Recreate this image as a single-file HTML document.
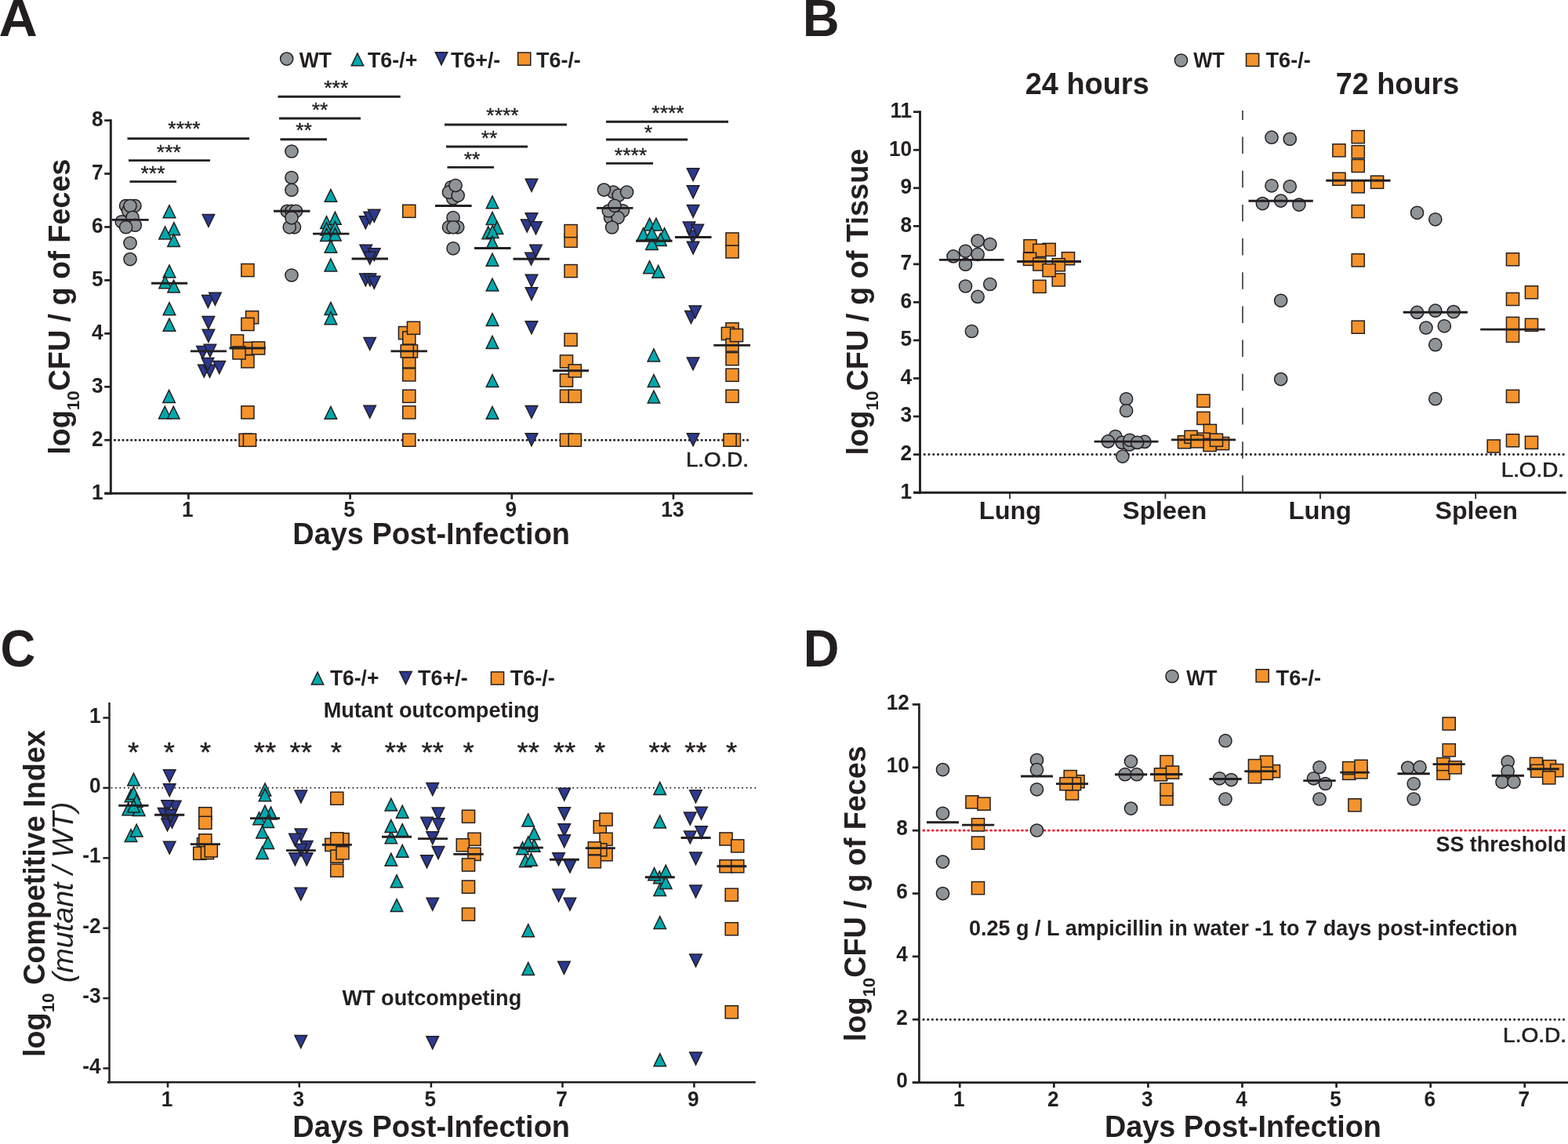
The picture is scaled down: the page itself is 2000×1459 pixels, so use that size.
<!DOCTYPE html>
<html lang="en"><head><meta charset="utf-8"><title>Figure</title>
<style>
html,body{margin:0;padding:0;background:#fff}
body{width:2000px;height:1459px;overflow:hidden}
svg{display:block}
text{font-family:"Liberation Sans",Arial,Helvetica,sans-serif;font-weight:bold;fill:#231f20}
line{stroke:#231f20}
.n{font-weight:normal}
.i{font-style:italic}
.g{fill:#8f9498;stroke:#231f20;stroke-width:1.5}
.o{fill:#f4932b;stroke:#231f20;stroke-width:1.5}
.t{fill:#00a9ad;stroke:#231f20;stroke-width:1.5;stroke-linejoin:miter}
.b{fill:#2b3990;stroke:#231f20;stroke-width:1.5;stroke-linejoin:miter}
</style></head><body>
<svg xmlns="http://www.w3.org/2000/svg" width="2000" height="1459" viewBox="0 0 2000 1459">
<rect width="2000" height="1459" fill="#fff"/>
<text transform="translate(-1.41 46) scale(1.0257 1)" font-size="66.5">A</text>
<line x1="141.3" y1="152.25" x2="141.3" y2="630.65" stroke-width="2.9"/>
<line x1="133.2" y1="629.2" x2="960.2" y2="629.2" stroke-width="2.9"/>
<line x1="133.2" y1="153.6" x2="141.3" y2="153.6" stroke-width="2.7"/>
<text transform="translate(131.5 161) scale(0.9500 1)" font-size="27.6" text-anchor="end">8</text>
<line x1="133.2" y1="221.54" x2="141.3" y2="221.54" stroke-width="2.7"/>
<text transform="translate(131.5 228.94) scale(0.9500 1)" font-size="27.6" text-anchor="end">7</text>
<line x1="133.2" y1="289.49" x2="141.3" y2="289.49" stroke-width="2.7"/>
<text transform="translate(131.5 296.89) scale(0.9500 1)" font-size="27.6" text-anchor="end">6</text>
<line x1="133.2" y1="357.43" x2="141.3" y2="357.43" stroke-width="2.7"/>
<text transform="translate(131.5 364.83) scale(0.9500 1)" font-size="27.6" text-anchor="end">5</text>
<line x1="133.2" y1="425.37" x2="141.3" y2="425.37" stroke-width="2.7"/>
<text transform="translate(131.5 432.77) scale(0.9500 1)" font-size="27.6" text-anchor="end">4</text>
<line x1="133.2" y1="493.31" x2="141.3" y2="493.31" stroke-width="2.7"/>
<text transform="translate(131.5 500.71) scale(0.9500 1)" font-size="27.6" text-anchor="end">3</text>
<line x1="133.2" y1="561.26" x2="141.3" y2="561.26" stroke-width="2.7"/>
<text transform="translate(131.5 568.66) scale(0.9500 1)" font-size="27.6" text-anchor="end">2</text>
<line x1="133.2" y1="629.2" x2="141.3" y2="629.2" stroke-width="2.7"/>
<text transform="translate(131.5 636.6) scale(0.9500 1)" font-size="27.6" text-anchor="end">1</text>
<line x1="240.4" y1="629.2" x2="240.4" y2="636.8" stroke-width="2.7"/>
<text transform="translate(239.4 658.8) scale(0.9500 1)" font-size="27.6" text-anchor="middle">1</text>
<line x1="446.6" y1="629.2" x2="446.6" y2="636.8" stroke-width="2.7"/>
<text transform="translate(445.6 658.8) scale(0.9500 1)" font-size="27.6" text-anchor="middle">5</text>
<line x1="652.8" y1="629.2" x2="652.8" y2="636.8" stroke-width="2.7"/>
<text transform="translate(651.8 658.8) scale(0.9500 1)" font-size="27.6" text-anchor="middle">9</text>
<line x1="858.9" y1="629.2" x2="858.9" y2="636.8" stroke-width="2.7"/>
<text transform="translate(857.9 658.8) scale(0.9500 1)" font-size="27.6" text-anchor="middle">13</text>
<text transform="translate(373.29 693.65) scale(0.9842 1)" font-size="38.5">Days Post-Infection</text>
<text transform="translate(88.70 579.84) rotate(-90) scale(0.9803 1)" font-size="38.5">log<tspan font-size="22.8" dy="12.4">10</tspan><tspan dy="-12.4">CFU / g of Feces</tspan></text>
<line x1="146.4" y1="561.25" x2="956" y2="561.25" stroke-width="3.1" stroke-linecap="round" stroke-dasharray="0.01 5.3"/>
<text transform="translate(874.92 595.15) scale(1.0482 1)" font-size="26.4" class="n" stroke="#231f20" stroke-width="0.7">L.O.D.</text>
<circle cx="365.7" cy="75.1" r="8.1" class="g"/>
<text transform="translate(381.68 85.75) scale(0.9631 1)" font-size="27.6">WT</text>
<path d="M448.15 83.83L455.9 67.93L463.65 83.83Z" class="t"/>
<text transform="translate(468.98 85.75) scale(0.9725 1)" font-size="27.6">T6-/+</text>
<path d="M555.25 66.77L563 82.67L570.75 66.77Z" class="b"/>
<text transform="translate(574.98 85.75) scale(0.9714 1)" font-size="27.6">T6+/-</text>
<rect x="660.65" y="67.05" width="16.1" height="16.1" class="o"/>
<text transform="translate(683.98 85.75) scale(0.9762 1)" font-size="27.6">T6-/-</text>
<text transform="translate(1023.82 46) scale(0.9762 1)" font-size="66.5">B</text>
<line x1="1173.5" y1="141.35" x2="1173.5" y2="629.65" stroke-width="2.9"/>
<line x1="1165" y1="628.2" x2="1997.7" y2="628.2" stroke-width="2.9"/>
<line x1="1165" y1="142.7" x2="1173.5" y2="142.7" stroke-width="2.7"/>
<text transform="translate(1163.2 150) scale(0.9500 1)" font-size="27.6" text-anchor="end">11</text>
<line x1="1165" y1="191.25" x2="1173.5" y2="191.25" stroke-width="2.7"/>
<text transform="translate(1163.2 198.55) scale(0.9500 1)" font-size="27.6" text-anchor="end">10</text>
<line x1="1165" y1="239.8" x2="1173.5" y2="239.8" stroke-width="2.7"/>
<text transform="translate(1163.2 247.1) scale(0.9500 1)" font-size="27.6" text-anchor="end">9</text>
<line x1="1165" y1="288.35" x2="1173.5" y2="288.35" stroke-width="2.7"/>
<text transform="translate(1163.2 295.65) scale(0.9500 1)" font-size="27.6" text-anchor="end">8</text>
<line x1="1165" y1="336.9" x2="1173.5" y2="336.9" stroke-width="2.7"/>
<text transform="translate(1163.2 344.2) scale(0.9500 1)" font-size="27.6" text-anchor="end">7</text>
<line x1="1165" y1="385.45" x2="1173.5" y2="385.45" stroke-width="2.7"/>
<text transform="translate(1163.2 392.75) scale(0.9500 1)" font-size="27.6" text-anchor="end">6</text>
<line x1="1165" y1="434" x2="1173.5" y2="434" stroke-width="2.7"/>
<text transform="translate(1163.2 441.3) scale(0.9500 1)" font-size="27.6" text-anchor="end">5</text>
<line x1="1165" y1="482.55" x2="1173.5" y2="482.55" stroke-width="2.7"/>
<text transform="translate(1163.2 489.85) scale(0.9500 1)" font-size="27.6" text-anchor="end">4</text>
<line x1="1165" y1="531.1" x2="1173.5" y2="531.1" stroke-width="2.7"/>
<text transform="translate(1163.2 538.4) scale(0.9500 1)" font-size="27.6" text-anchor="end">3</text>
<line x1="1165" y1="579.65" x2="1173.5" y2="579.65" stroke-width="2.7"/>
<text transform="translate(1163.2 586.95) scale(0.9500 1)" font-size="27.6" text-anchor="end">2</text>
<line x1="1165" y1="628.2" x2="1173.5" y2="628.2" stroke-width="2.7"/>
<text transform="translate(1163.2 635.5) scale(0.9500 1)" font-size="27.6" text-anchor="end">1</text>
<line x1="1288" y1="628.2" x2="1288" y2="636.3" stroke-width="1.7"/>
<text transform="translate(1248.81 661.55) scale(1.0210 1)" font-size="31.8">Lung</text>
<line x1="1486.4" y1="628.2" x2="1486.4" y2="636.3" stroke-width="1.7"/>
<text transform="translate(1431.77 661.55) scale(1.0310 1)" font-size="31.8">Spleen</text>
<line x1="1684" y1="628.2" x2="1684" y2="636.3" stroke-width="1.7"/>
<text transform="translate(1643.53 661.55) scale(1.0346 1)" font-size="31.8">Lung</text>
<line x1="1882.2" y1="628.2" x2="1882.2" y2="636.3" stroke-width="1.7"/>
<text transform="translate(1830.53 661.55) scale(1.0117 1)" font-size="31.8">Spleen</text>
<line x1="1585" y1="627.8" x2="1585" y2="141" stroke-width="1.7" style="stroke:#414042" stroke-dasharray="21.5 21.67"/>
<line x1="1179.19" y1="579.5" x2="1996" y2="579.5" stroke-width="3.1" stroke-linecap="round" stroke-dasharray="0.01 5.77"/>
<text transform="translate(1914.71 608.25) scale(1.0510 1)" font-size="26.4" class="n" stroke="#231f20" stroke-width="0.7">L.O.D.</text>
<text transform="translate(1307.67 120) scale(0.9853 1)" font-size="38.5">24 hours</text>
<text transform="translate(1703.64 120) scale(0.9824 1)" font-size="38.5">72 hours</text>
<text transform="translate(1107.30 580.46) rotate(-90) scale(0.9852 1)" font-size="38.5">log<tspan font-size="22.8" dy="12.4">10</tspan><tspan dy="-12.4">CFU / g of Tissue</tspan></text>
<circle cx="1506.5" cy="77" r="8.1" class="g"/>
<text transform="translate(1522.24 86.2) scale(0.9255 1)" font-size="27.6">WT</text>
<rect x="1589.55" y="68.35" width="16.1" height="16.1" class="o"/>
<text transform="translate(1614.43 86.2) scale(0.9867 1)" font-size="27.6">T6-/-</text>
<text transform="translate(0.57 850.2) scale(0.9310 1)" font-size="66.5">C</text>
<line x1="139.5" y1="896" x2="139.5" y2="1381.55" stroke-width="2.5"/>
<line x1="136.8" y1="1380.3" x2="963.75" y2="1380.3" stroke-width="2.6"/>
<line x1="131.4" y1="915.45" x2="139.5" y2="915.45" stroke-width="2.5"/>
<text transform="translate(128.6 921.65) scale(0.9500 1)" font-size="27.6" text-anchor="end">1</text>
<line x1="131.4" y1="1004.86" x2="139.5" y2="1004.86" stroke-width="2.5"/>
<text transform="translate(128.6 1011.06) scale(0.9500 1)" font-size="27.6" text-anchor="end">0</text>
<line x1="131.4" y1="1094.27" x2="139.5" y2="1094.27" stroke-width="2.5"/>
<text transform="translate(128.6 1100.47) scale(0.9500 1)" font-size="27.6" text-anchor="end">-1</text>
<line x1="131.4" y1="1183.68" x2="139.5" y2="1183.68" stroke-width="2.5"/>
<text transform="translate(128.6 1189.88) scale(0.9500 1)" font-size="27.6" text-anchor="end">-2</text>
<line x1="131.4" y1="1273.09" x2="139.5" y2="1273.09" stroke-width="2.5"/>
<text transform="translate(128.6 1279.29) scale(0.9500 1)" font-size="27.6" text-anchor="end">-3</text>
<line x1="131.4" y1="1362.5" x2="139.5" y2="1362.5" stroke-width="2.5"/>
<text transform="translate(128.6 1368.7) scale(0.9500 1)" font-size="27.6" text-anchor="end">-4</text>
<line x1="214" y1="1380.3" x2="214" y2="1386.9" stroke-width="2.5"/>
<text transform="translate(213 1410.8) scale(0.9500 1)" font-size="27.6" text-anchor="middle">1</text>
<line x1="381.7" y1="1380.3" x2="381.7" y2="1386.9" stroke-width="2.5"/>
<text transform="translate(380.7 1410.8) scale(0.9500 1)" font-size="27.6" text-anchor="middle">3</text>
<line x1="549.9" y1="1380.3" x2="549.9" y2="1386.9" stroke-width="2.5"/>
<text transform="translate(548.9 1410.8) scale(0.9500 1)" font-size="27.6" text-anchor="middle">5</text>
<line x1="717.5" y1="1380.3" x2="717.5" y2="1386.9" stroke-width="2.5"/>
<text transform="translate(716.5 1410.8) scale(0.9500 1)" font-size="27.6" text-anchor="middle">7</text>
<line x1="885.4" y1="1380.3" x2="885.4" y2="1386.9" stroke-width="2.5"/>
<text transform="translate(884.4 1410.8) scale(0.9500 1)" font-size="27.6" text-anchor="middle">9</text>
<text transform="translate(373.29 1450.2) scale(0.9842 1)" font-size="38.5">Days Post-Infection</text>
<text transform="translate(56.80 1347.94) rotate(-90) scale(0.9797 1)" font-size="38.5">log<tspan font-size="22.8" dy="12.4">10</tspan><tspan dy="-12.4"> Competitive Index</tspan></text>
<text transform="translate(92.6 1253.29) rotate(-90) scale(1.0198 1)" font-size="37" class="n i">(mutant / WT)</text>
<line x1="142.5" y1="1004.86" x2="964" y2="1004.86" stroke-width="2" stroke-linecap="round" stroke-dasharray="0.01 5.39"/>
<path d="M397.25 873.03L405 857.13L412.75 873.03Z" class="t"/>
<text transform="translate(420.99 873.75) scale(0.9568 1)" font-size="27.6">T6-/+</text>
<path d="M509.75 856.57L517.5 872.47L525.25 856.57Z" class="b"/>
<text transform="translate(532.98 873.75) scale(0.9792 1)" font-size="27.6">T6+/-</text>
<rect x="626.45" y="856.95" width="16.1" height="16.1" class="o"/>
<text transform="translate(650.73 873.75) scale(0.9805 1)" font-size="27.6">T6-/-</text>
<text transform="translate(412.67 915) scale(0.9823 1)" font-size="27.6">Mutant outcompeting</text>
<text transform="translate(436.43 1281.5) scale(0.9820 1)" font-size="27.6">WT outcompeting</text>
<text transform="translate(170 970.5) scale(1.0200 1)" font-size="35.7" text-anchor="middle" class="n" stroke="#231f20" stroke-width="0.45">*</text>
<text transform="translate(215.9 970.5) scale(1.0200 1)" font-size="35.7" text-anchor="middle" class="n" stroke="#231f20" stroke-width="0.45">*</text>
<text transform="translate(262 970.5) scale(1.0200 1)" font-size="35.7" text-anchor="middle" class="n" stroke="#231f20" stroke-width="0.45">*</text>
<text transform="translate(338 970.5) scale(1.0200 1)" font-size="35.7" text-anchor="middle" class="n" stroke="#231f20" stroke-width="0.45">**</text>
<text transform="translate(383.75 970.5) scale(1.0200 1)" font-size="35.7" text-anchor="middle" class="n" stroke="#231f20" stroke-width="0.45">**</text>
<text transform="translate(428.75 970.5) scale(1.0200 1)" font-size="35.7" text-anchor="middle" class="n" stroke="#231f20" stroke-width="0.45">*</text>
<text transform="translate(505 970.5) scale(1.0200 1)" font-size="35.7" text-anchor="middle" class="n" stroke="#231f20" stroke-width="0.45">**</text>
<text transform="translate(551.75 970.5) scale(1.0200 1)" font-size="35.7" text-anchor="middle" class="n" stroke="#231f20" stroke-width="0.45">**</text>
<text transform="translate(597.5 970.5) scale(1.0200 1)" font-size="35.7" text-anchor="middle" class="n" stroke="#231f20" stroke-width="0.45">*</text>
<text transform="translate(673.75 970.5) scale(1.0200 1)" font-size="35.7" text-anchor="middle" class="n" stroke="#231f20" stroke-width="0.45">**</text>
<text transform="translate(720 970.5) scale(1.0200 1)" font-size="35.7" text-anchor="middle" class="n" stroke="#231f20" stroke-width="0.45">**</text>
<text transform="translate(765 970.5) scale(1.0200 1)" font-size="35.7" text-anchor="middle" class="n" stroke="#231f20" stroke-width="0.45">*</text>
<text transform="translate(841.75 970.5) scale(1.0200 1)" font-size="35.7" text-anchor="middle" class="n" stroke="#231f20" stroke-width="0.45">**</text>
<text transform="translate(887.5 970.5) scale(1.0200 1)" font-size="35.7" text-anchor="middle" class="n" stroke="#231f20" stroke-width="0.45">**</text>
<text transform="translate(933 970.5) scale(1.0200 1)" font-size="35.7" text-anchor="middle" class="n" stroke="#231f20" stroke-width="0.45">*</text>
<text transform="translate(1024.73 850) scale(0.9514 1)" font-size="66.5">D</text>
<line x1="1172.4" y1="897.1" x2="1172.4" y2="1382.05" stroke-width="2.7"/>
<line x1="1163.8" y1="1380.6" x2="2000" y2="1380.6" stroke-width="2.9"/>
<line x1="1163.8" y1="898.45" x2="1172.4" y2="898.45" stroke-width="2.7"/>
<text transform="translate(1159.8 904.75) scale(0.9500 1)" font-size="27.6" text-anchor="end">12</text>
<line x1="1163.8" y1="978.81" x2="1172.4" y2="978.81" stroke-width="2.7"/>
<text transform="translate(1159.8 985.11) scale(0.9500 1)" font-size="27.6" text-anchor="end">10</text>
<line x1="1163.8" y1="1059.17" x2="1172.4" y2="1059.17" stroke-width="2.7"/>
<text transform="translate(1157.8 1065.47) scale(0.9500 1)" font-size="27.6" text-anchor="end">8</text>
<line x1="1163.8" y1="1139.53" x2="1172.4" y2="1139.53" stroke-width="2.7"/>
<text transform="translate(1157.8 1145.83) scale(0.9500 1)" font-size="27.6" text-anchor="end">6</text>
<line x1="1163.8" y1="1219.88" x2="1172.4" y2="1219.88" stroke-width="2.7"/>
<text transform="translate(1157.8 1226.18) scale(0.9500 1)" font-size="27.6" text-anchor="end">4</text>
<line x1="1163.8" y1="1300.24" x2="1172.4" y2="1300.24" stroke-width="2.7"/>
<text transform="translate(1157.8 1306.54) scale(0.9500 1)" font-size="27.6" text-anchor="end">2</text>
<line x1="1163.8" y1="1380.6" x2="1172.4" y2="1380.6" stroke-width="2.7"/>
<text transform="translate(1157.8 1386.9) scale(0.9500 1)" font-size="27.6" text-anchor="end">0</text>
<line x1="1224.2" y1="1380.6" x2="1224.2" y2="1387.2" stroke-width="2.7"/>
<text transform="translate(1223.2 1411.2) scale(0.9500 1)" font-size="27.6" text-anchor="middle">1</text>
<line x1="1344.3" y1="1380.6" x2="1344.3" y2="1387.2" stroke-width="2.7"/>
<text transform="translate(1343.3 1411.2) scale(0.9500 1)" font-size="27.6" text-anchor="middle">2</text>
<line x1="1464.4" y1="1380.6" x2="1464.4" y2="1387.2" stroke-width="2.7"/>
<text transform="translate(1463.4 1411.2) scale(0.9500 1)" font-size="27.6" text-anchor="middle">3</text>
<line x1="1584.5" y1="1380.6" x2="1584.5" y2="1387.2" stroke-width="2.7"/>
<text transform="translate(1583.5 1411.2) scale(0.9500 1)" font-size="27.6" text-anchor="middle">4</text>
<line x1="1704.6" y1="1380.6" x2="1704.6" y2="1387.2" stroke-width="2.7"/>
<text transform="translate(1703.6 1411.2) scale(0.9500 1)" font-size="27.6" text-anchor="middle">5</text>
<line x1="1824.7" y1="1380.6" x2="1824.7" y2="1387.2" stroke-width="2.7"/>
<text transform="translate(1823.7 1411.2) scale(0.9500 1)" font-size="27.6" text-anchor="middle">6</text>
<line x1="1944.8" y1="1380.6" x2="1944.8" y2="1387.2" stroke-width="2.7"/>
<text transform="translate(1943.8 1411.2) scale(0.9500 1)" font-size="27.6" text-anchor="middle">7</text>
<text transform="translate(1408.95 1450.2) scale(0.9824 1)" font-size="38.5">Days Post-Infection</text>
<text transform="translate(1103.60 1328.14) rotate(-90) scale(0.9797 1)" font-size="38.5">log<tspan font-size="22.8" dy="12.4">10</tspan><tspan dy="-12.4">CFU / g of Feces</tspan></text>
<line x1="1177.85" y1="1059.2" x2="2000" y2="1059.2" stroke-width="2.8" stroke-linecap="round" stroke-dasharray="0.9 4.81" style="stroke:#ec1b2e"/>
<text transform="translate(1831.44 1085.85) scale(0.9770 1)" font-size="27.6">SS threshold</text>
<line x1="1177.99" y1="1300.3" x2="2000" y2="1300.3" stroke-width="3.1" stroke-linecap="round" stroke-dasharray="0.01 5.7"/>
<text transform="translate(1917.03 1328.75) scale(1.0635 1)" font-size="26.4" class="n" stroke="#231f20" stroke-width="0.7">L.O.D.</text>
<text transform="translate(1235.92 1193.25) scale(0.9801 1)" font-size="27.6">0.25 g / L ampicillin in water -1 to 7 days post-infection</text>
<circle cx="1495" cy="862.5" r="8.1" class="g"/>
<text transform="translate(1513.19 873.75) scale(0.9161 1)" font-size="27.6">WT</text>
<rect x="1602.15" y="853.75" width="16.1" height="16.1" class="o"/>
<text transform="translate(1627.48 873.75) scale(0.9893 1)" font-size="27.6">T6-/-</text>
<line x1="165.5" y1="231.6" x2="225" y2="231.6" stroke-width="2.9"/>
<text transform="translate(195 230.1) scale(1.0400 1)" font-size="25.5" text-anchor="middle" class="n" stroke="#231f20" stroke-width="0.35">***</text>
<line x1="164" y1="204.6" x2="268" y2="204.6" stroke-width="2.9"/>
<text transform="translate(215.3 203) scale(1.0400 1)" font-size="25.5" text-anchor="middle" class="n" stroke="#231f20" stroke-width="0.35">***</text>
<line x1="162.5" y1="176.75" x2="318" y2="176.75" stroke-width="2.9"/>
<text transform="translate(235 173.1) scale(1.0400 1)" font-size="25.5" text-anchor="middle" class="n" stroke="#231f20" stroke-width="0.35">****</text>
<line x1="357.5" y1="177.75" x2="417" y2="177.75" stroke-width="2.9"/>
<text transform="translate(387.5 175.25) scale(1.0400 1)" font-size="25.5" text-anchor="middle" class="n" stroke="#231f20" stroke-width="0.35">**</text>
<line x1="356" y1="151" x2="460" y2="151" stroke-width="2.9"/>
<text transform="translate(408 148.95) scale(1.0400 1)" font-size="25.5" text-anchor="middle" class="n" stroke="#231f20" stroke-width="0.35">**</text>
<line x1="354.5" y1="123.2" x2="510.7" y2="123.2" stroke-width="2.9"/>
<text transform="translate(428.75 120.9) scale(1.0400 1)" font-size="25.5" text-anchor="middle" class="n" stroke="#231f20" stroke-width="0.35">***</text>
<line x1="570.5" y1="213.4" x2="630" y2="213.4" stroke-width="2.9"/>
<text transform="translate(602 212.3) scale(1.0400 1)" font-size="25.5" text-anchor="middle" class="n" stroke="#231f20" stroke-width="0.35">**</text>
<line x1="569" y1="187" x2="673" y2="187" stroke-width="2.9"/>
<text transform="translate(624 185.1) scale(1.0400 1)" font-size="25.5" text-anchor="middle" class="n" stroke="#231f20" stroke-width="0.35">**</text>
<line x1="567" y1="159" x2="723" y2="159" stroke-width="2.9"/>
<text transform="translate(641 156.1) scale(1.0400 1)" font-size="25.5" text-anchor="middle" class="n" stroke="#231f20" stroke-width="0.35">****</text>
<line x1="773" y1="208.4" x2="833" y2="208.4" stroke-width="2.9"/>
<text transform="translate(804.5 207.2) scale(1.0400 1)" font-size="25.5" text-anchor="middle" class="n" stroke="#231f20" stroke-width="0.35">****</text>
<line x1="773" y1="178" x2="877" y2="178" stroke-width="2.9"/>
<text transform="translate(827 178.2) scale(1.0400 1)" font-size="25.5" text-anchor="middle" class="n" stroke="#231f20" stroke-width="0.35">*</text>
<line x1="773" y1="155.2" x2="929" y2="155.2" stroke-width="2.9"/>
<text transform="translate(852 153.2) scale(1.0400 1)" font-size="25.5" text-anchor="middle" class="n" stroke="#231f20" stroke-width="0.35">****</text>
<circle cx="160.6" cy="262.5" r="8.1" class="g"/>
<circle cx="171.9" cy="262.5" r="8.1" class="g"/>
<circle cx="163.5" cy="268.75" r="8.1" class="g"/>
<circle cx="166" cy="262.5" r="8.1" class="g"/>
<circle cx="155.25" cy="282.75" r="8.1" class="g"/>
<circle cx="169" cy="277.25" r="8.1" class="g"/>
<circle cx="172.25" cy="287.25" r="8.1" class="g"/>
<circle cx="160.6" cy="289.75" r="8.1" class="g"/>
<circle cx="166" cy="310" r="8.1" class="g"/>
<circle cx="166" cy="330.6" r="8.1" class="g"/>
<path d="M208.25 277.68L216 261.78L223.75 277.68Z" class="t"/>
<path d="M214.15 299.68L221.9 283.78L229.65 299.68Z" class="t"/>
<path d="M202.85 304.93L210.6 289.03L218.35 304.93Z" class="t"/>
<path d="M213.85 314.43L221.6 298.53L229.35 314.43Z" class="t"/>
<path d="M208.25 353.93L216 338.03L223.75 353.93Z" class="t"/>
<path d="M202.85 367.83L210.6 351.93L218.35 367.83Z" class="t"/>
<path d="M213.85 373.03L221.6 357.13L229.35 373.03Z" class="t"/>
<path d="M208.25 401.68L216 385.78L223.75 401.68Z" class="t"/>
<path d="M208.25 422.13L216 406.23L223.75 422.13Z" class="t"/>
<path d="M207.85 513.43L215.6 497.53L223.35 513.43Z" class="t"/>
<path d="M202.5 534.03L210.25 518.13L218 534.03Z" class="t"/>
<path d="M213.5 534.03L221.25 518.13L229 534.03Z" class="t"/>
<path d="M258.15 273.47L265.9 289.37L273.65 273.47Z" class="b"/>
<path d="M257.65 376.57L265.4 392.47L273.15 376.57Z" class="b"/>
<path d="M266.65 373.27L274.4 389.17L282.15 373.27Z" class="b"/>
<path d="M258.15 403.57L265.9 419.47L273.65 403.57Z" class="b"/>
<path d="M258.15 420.32L265.9 436.22L273.65 420.32Z" class="b"/>
<path d="M250.75 441.57L258.5 457.47L266.25 441.57Z" class="b"/>
<path d="M260.15 439.37L267.9 455.27L275.65 439.37Z" class="b"/>
<path d="M252.5 465.17L260.25 481.07L268 465.17Z" class="b"/>
<path d="M259.75 465.32L267.5 481.22L275.25 465.32Z" class="b"/>
<path d="M272 460.57L279.75 476.47L287.5 460.57Z" class="b"/>
<path d="M257.25 456.57L265 472.47L272.75 456.57Z" class="b"/>
<rect x="307.85" y="336.55" width="16.1" height="16.1" class="o"/>
<rect x="313.55" y="396.7" width="16.1" height="16.1" class="o"/>
<rect x="307.85" y="405.45" width="16.1" height="16.1" class="o"/>
<rect x="307.85" y="436.35" width="16.1" height="16.1" class="o"/>
<rect x="321.55" y="435.95" width="16.1" height="16.1" class="o"/>
<rect x="294.45" y="426.95" width="16.1" height="16.1" class="o"/>
<rect x="307.85" y="452.85" width="16.1" height="16.1" class="o"/>
<rect x="296.95" y="441.95" width="16.1" height="16.1" class="o"/>
<rect x="307.85" y="517.85" width="16.1" height="16.1" class="o"/>
<rect x="305.05" y="553.2" width="16.1" height="16.1" class="o"/>
<rect x="310.45" y="553.2" width="16.1" height="16.1" class="o"/>
<line x1="142.75" y1="280.4" x2="189.6" y2="280.4" stroke-width="2.9"/>
<line x1="193" y1="361.25" x2="239.1" y2="361.25" stroke-width="2.9"/>
<line x1="243" y1="447.9" x2="289" y2="447.9" stroke-width="2.9"/>
<line x1="292.5" y1="444" x2="338.75" y2="444" stroke-width="2.9"/>
<circle cx="371.95" cy="193" r="8.1" class="g"/>
<circle cx="371.95" cy="226.5" r="8.1" class="g"/>
<circle cx="371.95" cy="242.25" r="8.1" class="g"/>
<circle cx="366.25" cy="269.3" r="8.1" class="g"/>
<circle cx="372" cy="269.3" r="8.1" class="g"/>
<circle cx="377.5" cy="269.3" r="8.1" class="g"/>
<circle cx="375.5" cy="289.8" r="8.1" class="g"/>
<circle cx="369.25" cy="289.8" r="8.1" class="g"/>
<circle cx="371.95" cy="277.8" r="8.1" class="g"/>
<circle cx="371.95" cy="351" r="8.1" class="g"/>
<path d="M414.15 257.33L421.9 241.43L429.65 257.33Z" class="t"/>
<path d="M408.75 291.53L416.5 275.63L424.25 291.53Z" class="t"/>
<path d="M419.65 286.23L427.4 270.33L435.15 286.23Z" class="t"/>
<path d="M408.75 299.93L416.5 284.03L424.25 299.93Z" class="t"/>
<path d="M408.75 307.43L416.5 291.53L424.25 307.43Z" class="t"/>
<path d="M419.65 298.43L427.4 282.53L435.15 298.43Z" class="t"/>
<path d="M419.65 306.93L427.4 291.03L435.15 306.93Z" class="t"/>
<path d="M414.15 322.23L421.9 306.33L429.65 322.23Z" class="t"/>
<path d="M414.15 345.93L421.9 330.03L429.65 345.93Z" class="t"/>
<path d="M414.15 401.43L421.9 385.53L429.65 401.43Z" class="t"/>
<path d="M414.15 413.63L421.9 397.73L429.65 413.63Z" class="t"/>
<path d="M414.15 534.33L421.9 518.43L429.65 534.33Z" class="t"/>
<path d="M458.55 275.87L466.3 291.77L474.05 275.87Z" class="b"/>
<path d="M463.95 270.17L471.7 286.07L479.45 270.17Z" class="b"/>
<path d="M469.5 267.27L477.25 283.17L485 267.27Z" class="b"/>
<path d="M459 312.17L466.75 328.07L474.5 312.17Z" class="b"/>
<path d="M469.5 316.67L477.25 332.57L485 316.67Z" class="b"/>
<path d="M463.95 321.17L471.7 337.07L479.45 321.17Z" class="b"/>
<path d="M458.55 348.97L466.3 364.87L474.05 348.97Z" class="b"/>
<path d="M464.25 348.97L472 364.87L479.75 348.97Z" class="b"/>
<path d="M469.5 352.37L477.25 368.27L485 352.37Z" class="b"/>
<path d="M463.95 430.42L471.7 446.32L479.45 430.42Z" class="b"/>
<path d="M463.95 517.17L471.7 533.07L479.45 517.17Z" class="b"/>
<rect x="513.75" y="261.25" width="16.1" height="16.1" class="o"/>
<rect x="508.45" y="416.55" width="16.1" height="16.1" class="o"/>
<rect x="513.75" y="422.95" width="16.1" height="16.1" class="o"/>
<rect x="519.45" y="410.25" width="16.1" height="16.1" class="o"/>
<rect x="513.75" y="452.95" width="16.1" height="16.1" class="o"/>
<rect x="516.45" y="439.85" width="16.1" height="16.1" class="o"/>
<rect x="511.2" y="439.85" width="16.1" height="16.1" class="o"/>
<rect x="513.75" y="469.85" width="16.1" height="16.1" class="o"/>
<rect x="513.75" y="497.25" width="16.1" height="16.1" class="o"/>
<rect x="513.75" y="517.85" width="16.1" height="16.1" class="o"/>
<rect x="513.75" y="553.15" width="16.1" height="16.1" class="o"/>
<line x1="349" y1="269.3" x2="395.5" y2="269.3" stroke-width="2.9"/>
<line x1="399" y1="298.1" x2="445.4" y2="298.1" stroke-width="2.9"/>
<line x1="448.6" y1="330" x2="495" y2="330" stroke-width="2.9"/>
<line x1="498.5" y1="447.9" x2="545" y2="447.9" stroke-width="2.9"/>
<circle cx="575.5" cy="238.8" r="8.1" class="g"/>
<circle cx="577.75" cy="253" r="8.1" class="g"/>
<circle cx="572.5" cy="245.2" r="8.1" class="g"/>
<circle cx="584.2" cy="249.3" r="8.1" class="g"/>
<circle cx="581.05" cy="236.5" r="8.1" class="g"/>
<circle cx="578.05" cy="277.5" r="8.1" class="g"/>
<circle cx="572.5" cy="289.8" r="8.1" class="g"/>
<circle cx="583.75" cy="289.8" r="8.1" class="g"/>
<circle cx="578.05" cy="289.8" r="8.1" class="g"/>
<circle cx="578.05" cy="316.8" r="8.1" class="g"/>
<path d="M620.25 265.83L628 249.93L635.75 265.83Z" class="t"/>
<path d="M620.25 286.43L628 270.53L635.75 286.43Z" class="t"/>
<path d="M626.25 298.43L634 282.53L641.75 298.43Z" class="t"/>
<path d="M615 304.73L622.75 288.83L630.5 304.73Z" class="t"/>
<path d="M620.55 303.43L628.3 287.53L636.05 303.43Z" class="t"/>
<path d="M620.25 317.23L628 301.33L635.75 317.23Z" class="t"/>
<path d="M620.25 339.13L628 323.23L635.75 339.13Z" class="t"/>
<path d="M620.25 371.03L628 355.13L635.75 371.03Z" class="t"/>
<path d="M620.25 415.53L628 399.63L635.75 415.53Z" class="t"/>
<path d="M620.25 444.43L628 428.53L635.75 444.43Z" class="t"/>
<path d="M620.25 493.53L628 477.63L635.75 493.53Z" class="t"/>
<path d="M620.25 534.33L628 518.43L635.75 534.33Z" class="t"/>
<path d="M670.25 228.37L678 244.27L685.75 228.37Z" class="b"/>
<path d="M664.5 280.07L672.25 295.97L680 280.07Z" class="b"/>
<path d="M670.25 271.87L678 287.77L685.75 271.87Z" class="b"/>
<path d="M675.75 282.77L683.5 298.67L691.25 282.77Z" class="b"/>
<path d="M669.75 322.17L677.5 338.07L685.25 322.17Z" class="b"/>
<path d="M675.75 312.17L683.5 328.07L691.25 312.17Z" class="b"/>
<path d="M670.25 350.17L678 366.07L685.75 350.17Z" class="b"/>
<path d="M670.25 366.77L678 382.67L685.75 366.77Z" class="b"/>
<path d="M670.25 409.87L678 425.77L685.75 409.87Z" class="b"/>
<path d="M670.25 517.47L678 533.37L685.75 517.47Z" class="b"/>
<path d="M670.25 552.77L678 568.67L685.75 552.77Z" class="b"/>
<rect x="720" y="299.25" width="16.1" height="16.1" class="o"/>
<rect x="720" y="286.55" width="16.1" height="16.1" class="o"/>
<rect x="720" y="337.55" width="16.1" height="16.1" class="o"/>
<rect x="720" y="425.25" width="16.1" height="16.1" class="o"/>
<rect x="714.45" y="452.95" width="16.1" height="16.1" class="o"/>
<rect x="714.45" y="477.05" width="16.1" height="16.1" class="o"/>
<rect x="725.25" y="464.95" width="16.1" height="16.1" class="o"/>
<rect x="714.45" y="497.25" width="16.1" height="16.1" class="o"/>
<rect x="725.25" y="497.25" width="16.1" height="16.1" class="o"/>
<rect x="714.45" y="553.15" width="16.1" height="16.1" class="o"/>
<rect x="725.25" y="553.15" width="16.1" height="16.1" class="o"/>
<line x1="555" y1="262.5" x2="601.6" y2="262.5" stroke-width="2.9"/>
<line x1="605" y1="316.5" x2="651.5" y2="316.5" stroke-width="2.9"/>
<line x1="654.5" y1="330.3" x2="701" y2="330.3" stroke-width="2.9"/>
<line x1="705" y1="472.8" x2="751" y2="472.8" stroke-width="2.9"/>
<circle cx="782.25" cy="245" r="8.1" class="g"/>
<circle cx="789.1" cy="249" r="8.1" class="g"/>
<circle cx="770.4" cy="242.1" r="8.1" class="g"/>
<circle cx="799.6" cy="245" r="8.1" class="g"/>
<circle cx="794.4" cy="268.75" r="8.1" class="g"/>
<circle cx="778.5" cy="277.5" r="8.1" class="g"/>
<circle cx="788.1" cy="277.5" r="8.1" class="g"/>
<circle cx="776.25" cy="269" r="8.1" class="g"/>
<circle cx="784" cy="262.25" r="8.1" class="g"/>
<circle cx="780.6" cy="290" r="8.1" class="g"/>
<path d="M820.75 294.03L828.5 278.13L836.25 294.03Z" class="t"/>
<path d="M829.15 294.03L836.9 278.13L844.65 294.03Z" class="t"/>
<path d="M839.75 306.53L847.5 290.63L855.25 306.53Z" class="t"/>
<path d="M812.85 306.53L820.6 290.63L828.35 306.53Z" class="t"/>
<path d="M834.75 313.43L842.5 297.53L850.25 313.43Z" class="t"/>
<path d="M823.75 318.43L831.5 302.53L839.25 318.43Z" class="t"/>
<path d="M823.75 305.33L831.5 289.43L839.25 305.33Z" class="t"/>
<path d="M820.75 348.68L828.5 332.78L836.25 348.68Z" class="t"/>
<path d="M831.85 354.33L839.6 338.43L847.35 354.33Z" class="t"/>
<path d="M826.15 460.93L833.9 445.03L841.65 460.93Z" class="t"/>
<path d="M826.15 493.53L833.9 477.63L841.65 493.53Z" class="t"/>
<path d="M826.15 514.03L833.9 498.13L841.65 514.03Z" class="t"/>
<path d="M876.35 214.82L884.1 230.72L891.85 214.82Z" class="b"/>
<path d="M876.35 236.87L884.1 252.77L891.85 236.87Z" class="b"/>
<path d="M876.35 261.47L884.1 277.37L891.85 261.47Z" class="b"/>
<path d="M876 294.07L883.75 309.97L891.5 294.07Z" class="b"/>
<path d="M871.25 282.97L879 298.87L886.75 282.97Z" class="b"/>
<path d="M882 286.17L889.75 302.07L897.5 286.17Z" class="b"/>
<path d="M876.35 308.17L884.1 324.07L891.85 308.17Z" class="b"/>
<path d="M873.75 396.57L881.5 412.47L889.25 396.57Z" class="b"/>
<path d="M879 389.97L886.75 405.87L894.5 389.97Z" class="b"/>
<path d="M876.25 455.97L884 471.87L891.75 455.97Z" class="b"/>
<path d="M876.25 552.77L884 568.67L891.75 552.77Z" class="b"/>
<rect x="925.95" y="312.85" width="16.1" height="16.1" class="o"/>
<rect x="925.95" y="296.95" width="16.1" height="16.1" class="o"/>
<rect x="925.95" y="411.75" width="16.1" height="16.1" class="o"/>
<rect x="920.35" y="417.45" width="16.1" height="16.1" class="o"/>
<rect x="925.95" y="432.05" width="16.1" height="16.1" class="o"/>
<rect x="931.45" y="419.55" width="16.1" height="16.1" class="o"/>
<rect x="925.95" y="449.7" width="16.1" height="16.1" class="o"/>
<rect x="925.95" y="470.25" width="16.1" height="16.1" class="o"/>
<rect x="925.95" y="497.25" width="16.1" height="16.1" class="o"/>
<rect x="928.35" y="553.15" width="16.1" height="16.1" class="o"/>
<rect x="922.95" y="553.15" width="16.1" height="16.1" class="o"/>
<line x1="761" y1="265.4" x2="807.5" y2="265.4" stroke-width="2.9"/>
<line x1="811" y1="307.25" x2="857.5" y2="307.25" stroke-width="2.9"/>
<line x1="860.9" y1="302.5" x2="907.5" y2="302.5" stroke-width="2.9"/>
<line x1="910.3" y1="440.4" x2="957" y2="440.4" stroke-width="2.9"/>
<circle cx="1247.1" cy="307.1" r="8.1" class="g"/>
<circle cx="1262.75" cy="311.5" r="8.1" class="g"/>
<circle cx="1231.5" cy="320.25" r="8.1" class="g"/>
<circle cx="1247.1" cy="324.4" r="8.1" class="g"/>
<circle cx="1216" cy="326.9" r="8.1" class="g"/>
<circle cx="1231.5" cy="337.25" r="8.1" class="g"/>
<circle cx="1262.75" cy="362.5" r="8.1" class="g"/>
<circle cx="1231.5" cy="365" r="8.1" class="g"/>
<circle cx="1247.1" cy="378.4" r="8.1" class="g"/>
<circle cx="1239.4" cy="422.5" r="8.1" class="g"/>
<rect x="1305.95" y="305.7" width="16.1" height="16.1" class="o"/>
<rect x="1330.05" y="310.35" width="16.1" height="16.1" class="o"/>
<rect x="1317.85" y="311.35" width="16.1" height="16.1" class="o"/>
<rect x="1354.45" y="321.7" width="16.1" height="16.1" class="o"/>
<rect x="1305.45" y="322.35" width="16.1" height="16.1" class="o"/>
<rect x="1317.85" y="328.95" width="16.1" height="16.1" class="o"/>
<rect x="1342.2" y="329.7" width="16.1" height="16.1" class="o"/>
<rect x="1342.2" y="348.85" width="16.1" height="16.1" class="o"/>
<rect x="1330.05" y="336.7" width="16.1" height="16.1" class="o"/>
<rect x="1317.85" y="357.35" width="16.1" height="16.1" class="o"/>
<line x1="1198" y1="331.4" x2="1280.6" y2="331.4" stroke-width="2.9"/>
<line x1="1297.1" y1="333.5" x2="1379" y2="333.5" stroke-width="2.9"/>
<circle cx="1436.6" cy="508.75" r="8.1" class="g"/>
<circle cx="1436.6" cy="523.75" r="8.1" class="g"/>
<circle cx="1422.75" cy="556.5" r="8.1" class="g"/>
<circle cx="1431.25" cy="564.4" r="8.1" class="g"/>
<circle cx="1440.6" cy="566.9" r="8.1" class="g"/>
<circle cx="1441" cy="561.25" r="8.1" class="g"/>
<circle cx="1413.4" cy="562.9" r="8.1" class="g"/>
<circle cx="1460" cy="563.4" r="8.1" class="g"/>
<circle cx="1450.6" cy="564.4" r="8.1" class="g"/>
<circle cx="1431.9" cy="582.1" r="8.1" class="g"/>
<rect x="1526.95" y="503.2" width="16.1" height="16.1" class="o"/>
<rect x="1526.95" y="525.35" width="16.1" height="16.1" class="o"/>
<rect x="1535.35" y="541.35" width="16.1" height="16.1" class="o"/>
<rect x="1502.55" y="555.7" width="16.1" height="16.1" class="o"/>
<rect x="1511.05" y="549.2" width="16.1" height="16.1" class="o"/>
<rect x="1527.2" y="552.2" width="16.1" height="16.1" class="o"/>
<rect x="1535.05" y="559.45" width="16.1" height="16.1" class="o"/>
<rect x="1551.55" y="557.55" width="16.1" height="16.1" class="o"/>
<rect x="1519.05" y="554.85" width="16.1" height="16.1" class="o"/>
<rect x="1543.45" y="553.2" width="16.1" height="16.1" class="o"/>
<line x1="1395.6" y1="563.1" x2="1477.5" y2="563.1" stroke-width="2.9"/>
<line x1="1494.1" y1="560.9" x2="1576" y2="560.9" stroke-width="2.9"/>
<circle cx="1622" cy="175.2" r="8.1" class="g"/>
<circle cx="1645.25" cy="177.3" r="8.1" class="g"/>
<circle cx="1622" cy="236.8" r="8.1" class="g"/>
<circle cx="1645.25" cy="237.8" r="8.1" class="g"/>
<circle cx="1610.45" cy="259.6" r="8.1" class="g"/>
<circle cx="1656.95" cy="261.1" r="8.1" class="g"/>
<circle cx="1633.7" cy="256.1" r="8.1" class="g"/>
<circle cx="1633.7" cy="383.3" r="8.1" class="g"/>
<circle cx="1633.7" cy="483.6" r="8.1" class="g"/>
<rect x="1724.2" y="166.55" width="16.1" height="16.1" class="o"/>
<rect x="1699.9" y="183.75" width="16.1" height="16.1" class="o"/>
<rect x="1724.2" y="185.65" width="16.1" height="16.1" class="o"/>
<rect x="1724.2" y="203.45" width="16.1" height="16.1" class="o"/>
<rect x="1699.9" y="220.25" width="16.1" height="16.1" class="o"/>
<rect x="1748.5" y="224.25" width="16.1" height="16.1" class="o"/>
<rect x="1724.2" y="229.75" width="16.1" height="16.1" class="o"/>
<rect x="1724.2" y="261.55" width="16.1" height="16.1" class="o"/>
<rect x="1724.2" y="323.85" width="16.1" height="16.1" class="o"/>
<rect x="1724.2" y="409.15" width="16.1" height="16.1" class="o"/>
<line x1="1592.5" y1="256.3" x2="1674.8" y2="256.3" stroke-width="2.9"/>
<line x1="1691.3" y1="230.3" x2="1773.5" y2="230.3" stroke-width="2.9"/>
<circle cx="1807.55" cy="271.3" r="8.1" class="g"/>
<circle cx="1830.8" cy="279.8" r="8.1" class="g"/>
<circle cx="1807.55" cy="398.4" r="8.1" class="g"/>
<circle cx="1830.8" cy="396.2" r="8.1" class="g"/>
<circle cx="1854.05" cy="397.6" r="8.1" class="g"/>
<circle cx="1818.95" cy="418" r="8.1" class="g"/>
<circle cx="1842.3" cy="415.8" r="8.1" class="g"/>
<circle cx="1830.8" cy="439.7" r="8.1" class="g"/>
<circle cx="1830.8" cy="508.7" r="8.1" class="g"/>
<rect x="1921.45" y="322.75" width="16.1" height="16.1" class="o"/>
<rect x="1945.45" y="364.75" width="16.1" height="16.1" class="o"/>
<rect x="1921.45" y="373.45" width="16.1" height="16.1" class="o"/>
<rect x="1921.45" y="420.25" width="16.1" height="16.1" class="o"/>
<rect x="1921.45" y="404.45" width="16.1" height="16.1" class="o"/>
<rect x="1945.45" y="406.35" width="16.1" height="16.1" class="o"/>
<rect x="1921.45" y="497.35" width="16.1" height="16.1" class="o"/>
<rect x="1921.45" y="553.75" width="16.1" height="16.1" class="o"/>
<rect x="1945.45" y="556.35" width="16.1" height="16.1" class="o"/>
<rect x="1897.15" y="560.95" width="16.1" height="16.1" class="o"/>
<line x1="1789.7" y1="398.3" x2="1871.9" y2="398.3" stroke-width="2.9"/>
<line x1="1888.2" y1="420.1" x2="1970.75" y2="420.1" stroke-width="2.9"/>
<path d="M162.7 1002.03L170.45 986.13L178.2 1002.03Z" class="t"/>
<path d="M159.25 1022.73L167 1006.83L174.75 1022.73Z" class="t"/>
<path d="M162.7 1019.43L170.45 1003.53L178.2 1019.43Z" class="t"/>
<path d="M155.95 1039.73L163.7 1023.83L171.45 1039.73Z" class="t"/>
<path d="M169.45 1040.43L177.2 1024.53L184.95 1040.43Z" class="t"/>
<path d="M166.45 1029.23L174.2 1013.33L181.95 1029.23Z" class="t"/>
<path d="M162.7 1035.93L170.45 1020.03L178.2 1035.93Z" class="t"/>
<path d="M159.25 1073.53L167 1057.63L174.75 1073.53Z" class="t"/>
<path d="M166.45 1067.03L174.2 1051.13L181.95 1067.03Z" class="t"/>
<path d="M208.45 981.67L216.2 997.57L223.95 981.67Z" class="b"/>
<path d="M208.45 999.67L216.2 1015.57L223.95 999.67Z" class="b"/>
<path d="M215.5 1021.37L223.25 1037.27L231 1021.37Z" class="b"/>
<path d="M205.75 1020.77L213.5 1036.67L221.25 1020.77Z" class="b"/>
<path d="M201.25 1030.47L209 1046.37L216.75 1030.47Z" class="b"/>
<path d="M205.75 1043.97L213.5 1059.87L221.25 1043.97Z" class="b"/>
<path d="M211.75 1040.17L219.5 1056.07L227.25 1040.17Z" class="b"/>
<path d="M210.25 1032.57L218 1048.47L225.75 1032.57Z" class="b"/>
<path d="M208.45 1073.17L216.2 1089.07L223.95 1073.17Z" class="b"/>
<rect x="253.75" y="1029.7" width="16.1" height="16.1" class="o"/>
<rect x="253.75" y="1041.25" width="16.1" height="16.1" class="o"/>
<rect x="251.45" y="1068.75" width="16.1" height="16.1" class="o"/>
<rect x="253.75" y="1063.75" width="16.1" height="16.1" class="o"/>
<rect x="246.7" y="1080.25" width="16.1" height="16.1" class="o"/>
<rect x="256.45" y="1079.55" width="16.1" height="16.1" class="o"/>
<rect x="261.25" y="1076.85" width="16.1" height="16.1" class="o"/>
<line x1="151.25" y1="1027.4" x2="189.5" y2="1027.4" stroke-width="2.9"/>
<line x1="197" y1="1039.2" x2="235.25" y2="1039.2" stroke-width="2.9"/>
<line x1="242.75" y1="1076.6" x2="281" y2="1076.6" stroke-width="2.9"/>
<path d="M330.25 1014.93L338 999.03L345.75 1014.93Z" class="t"/>
<path d="M330.25 1021.73L338 1005.83L345.75 1021.73Z" class="t"/>
<path d="M337.75 1044.93L345.5 1029.03L353.25 1044.93Z" class="t"/>
<path d="M322.75 1051.73L330.5 1035.83L338.25 1051.73Z" class="t"/>
<path d="M330.25 1043.13L338 1027.23L345.75 1043.13Z" class="t"/>
<path d="M334 1055.43L341.75 1039.53L349.5 1055.43Z" class="t"/>
<path d="M326.8 1069.03L334.55 1053.13L342.3 1069.03Z" class="t"/>
<path d="M334 1082.53L341.75 1066.63L349.5 1082.53Z" class="t"/>
<path d="M326.8 1095.53L334.55 1079.63L342.3 1095.53Z" class="t"/>
<path d="M376.1 1008.07L383.85 1023.97L391.6 1008.07Z" class="b"/>
<path d="M376.1 1056.97L383.85 1072.87L391.6 1056.97Z" class="b"/>
<path d="M368.65 1063.37L376.4 1079.27L384.15 1063.37Z" class="b"/>
<path d="M383.45 1072.57L391.2 1088.47L398.95 1072.57Z" class="b"/>
<path d="M376.1 1076.17L383.85 1092.07L391.6 1076.17Z" class="b"/>
<path d="M368.65 1087.77L376.4 1103.67L384.15 1087.77Z" class="b"/>
<path d="M383.45 1087.77L391.2 1103.67L398.95 1087.77Z" class="b"/>
<path d="M376 1132.17L383.75 1148.07L391.5 1132.17Z" class="b"/>
<path d="M376 1320.57L383.75 1336.47L391.5 1320.57Z" class="b"/>
<rect x="421.7" y="1010.2" width="16.1" height="16.1" class="o"/>
<rect x="414.75" y="1069.35" width="16.1" height="16.1" class="o"/>
<rect x="428.91" y="1062.6" width="16.1" height="16.1" class="o"/>
<rect x="421.7" y="1061.75" width="16.1" height="16.1" class="o"/>
<rect x="421.7" y="1084.15" width="16.1" height="16.1" class="o"/>
<rect x="428.91" y="1079.75" width="16.1" height="16.1" class="o"/>
<rect x="421.7" y="1102.2" width="16.1" height="16.1" class="o"/>
<line x1="318.9" y1="1043.6" x2="357" y2="1043.6" stroke-width="2.9"/>
<line x1="365" y1="1084.6" x2="402.8" y2="1084.6" stroke-width="2.9"/>
<line x1="410.8" y1="1077.4" x2="448.8" y2="1077.4" stroke-width="2.9"/>
<path d="M491.05 1034.03L498.8 1018.13L506.55 1034.03Z" class="t"/>
<path d="M505.45 1043.13L513.2 1027.23L520.95 1043.13Z" class="t"/>
<path d="M491.05 1075.73L498.8 1059.83L506.55 1075.73Z" class="t"/>
<path d="M491.05 1061.43L498.8 1045.53L506.55 1061.43Z" class="t"/>
<path d="M505.45 1066.73L513.2 1050.83L520.95 1066.73Z" class="t"/>
<path d="M505.45 1093.33L513.2 1077.43L520.95 1093.33Z" class="t"/>
<path d="M491.05 1104.23L498.8 1088.33L506.55 1104.23Z" class="t"/>
<path d="M498.25 1131.73L506 1115.83L513.75 1131.73Z" class="t"/>
<path d="M498.25 1162.53L506 1146.63L513.75 1162.53Z" class="t"/>
<path d="M544 998.57L551.75 1014.47L559.5 998.57Z" class="b"/>
<path d="M551.25 1030.07L559 1045.97L566.75 1030.07Z" class="b"/>
<path d="M536.75 1042.37L544.5 1058.27L552.25 1042.37Z" class="b"/>
<path d="M551.5 1043.87L559.25 1059.77L567 1043.87Z" class="b"/>
<path d="M544 1060.87L551.75 1076.77L559.5 1060.87Z" class="b"/>
<path d="M551.25 1079.57L559 1095.47L566.75 1079.57Z" class="b"/>
<path d="M536.75 1090.87L544.5 1106.77L552.25 1090.87Z" class="b"/>
<path d="M544 1145.17L551.75 1161.07L559.5 1145.17Z" class="b"/>
<path d="M544 1321.82L551.75 1337.72L559.5 1321.82Z" class="b"/>
<rect x="589.45" y="1033.25" width="16.1" height="16.1" class="o"/>
<rect x="596.95" y="1062.25" width="16.1" height="16.1" class="o"/>
<rect x="582.25" y="1069.75" width="16.1" height="16.1" class="o"/>
<rect x="596.95" y="1081.35" width="16.1" height="16.1" class="o"/>
<rect x="589.45" y="1094.95" width="16.1" height="16.1" class="o"/>
<rect x="589.45" y="1123.05" width="16.1" height="16.1" class="o"/>
<rect x="589.45" y="1158.05" width="16.1" height="16.1" class="o"/>
<line x1="487" y1="1067.3" x2="525" y2="1067.3" stroke-width="2.9"/>
<line x1="533" y1="1069.6" x2="571" y2="1069.6" stroke-width="2.9"/>
<line x1="578.3" y1="1089.4" x2="616.7" y2="1089.4" stroke-width="2.9"/>
<path d="M665.95 1053.93L673.7 1038.03L681.45 1053.93Z" class="t"/>
<path d="M673.45 1086.23L681.2 1070.33L688.95 1086.23Z" class="t"/>
<path d="M673.45 1070.83L681.2 1054.93L688.95 1070.83Z" class="t"/>
<path d="M658.75 1089.73L666.5 1073.83L674.25 1089.73Z" class="t"/>
<path d="M665.95 1082.83L673.7 1066.93L681.45 1082.83Z" class="t"/>
<path d="M662.5 1105.73L670.25 1089.83L678 1105.73Z" class="t"/>
<path d="M669.7 1104.23L677.45 1088.33L685.2 1104.23Z" class="t"/>
<path d="M666 1194.63L673.75 1178.73L681.5 1194.63Z" class="t"/>
<path d="M666 1243.43L673.75 1227.53L681.5 1243.43Z" class="t"/>
<path d="M712 1005.17L719.75 1021.07L727.5 1005.17Z" class="b"/>
<path d="M712 1029.87L719.75 1045.77L727.5 1029.87Z" class="b"/>
<path d="M712 1050.67L719.75 1066.57L727.5 1050.67Z" class="b"/>
<path d="M712 1064.87L719.75 1080.77L727.5 1064.87Z" class="b"/>
<path d="M704.8 1087.87L712.55 1103.77L720.3 1087.87Z" class="b"/>
<path d="M719.2 1097.17L726.95 1113.07L734.7 1097.17Z" class="b"/>
<path d="M704.8 1133.97L712.55 1149.87L720.3 1133.97Z" class="b"/>
<path d="M719.2 1145.17L726.95 1161.07L734.7 1145.17Z" class="b"/>
<path d="M711.75 1226.32L719.5 1242.22L727.25 1226.32Z" class="b"/>
<rect x="757.15" y="1046.55" width="16.1" height="16.1" class="o"/>
<rect x="764.95" y="1037.05" width="16.1" height="16.1" class="o"/>
<rect x="764.95" y="1062.25" width="16.1" height="16.1" class="o"/>
<rect x="764.95" y="1081.75" width="16.1" height="16.1" class="o"/>
<rect x="757.75" y="1075.75" width="16.1" height="16.1" class="o"/>
<rect x="750.25" y="1090.75" width="16.1" height="16.1" class="o"/>
<rect x="750.25" y="1073.85" width="16.1" height="16.1" class="o"/>
<line x1="654.8" y1="1081.1" x2="692.9" y2="1081.1" stroke-width="2.9"/>
<line x1="701" y1="1096.3" x2="738.8" y2="1096.3" stroke-width="2.9"/>
<line x1="746.75" y1="1081.6" x2="784.7" y2="1081.6" stroke-width="2.9"/>
<path d="M833.95 1013.43L841.7 997.53L849.45 1013.43Z" class="t"/>
<path d="M833.95 1055.93L841.7 1040.03L849.45 1055.93Z" class="t"/>
<path d="M833.5 1126.83L841.25 1110.93L849 1126.83Z" class="t"/>
<path d="M826.75 1122.73L834.5 1106.83L842.25 1122.73Z" class="t"/>
<path d="M841.45 1119.23L849.2 1103.33L856.95 1119.23Z" class="t"/>
<path d="M833.95 1142.53L841.7 1126.63L849.45 1142.53Z" class="t"/>
<path d="M841.45 1133.53L849.2 1117.63L856.95 1133.53Z" class="t"/>
<path d="M833.95 1184.53L841.7 1168.63L849.45 1184.53Z" class="t"/>
<path d="M834 1359.73L841.75 1343.83L849.5 1359.73Z" class="t"/>
<path d="M879.7 1007.87L887.45 1023.77L895.2 1007.87Z" class="b"/>
<path d="M872.5 1036.07L880.25 1051.97L888 1036.07Z" class="b"/>
<path d="M886.75 1029.17L894.5 1045.07L902.25 1029.17Z" class="b"/>
<path d="M872.5 1059.97L880.25 1075.87L888 1059.97Z" class="b"/>
<path d="M886.75 1053.67L894.5 1069.57L902.25 1053.67Z" class="b"/>
<path d="M879.7 1086.97L887.45 1102.87L895.2 1086.97Z" class="b"/>
<path d="M879.7 1128.97L887.45 1144.87L895.2 1128.97Z" class="b"/>
<path d="M879.75 1217.07L887.5 1232.97L895.25 1217.07Z" class="b"/>
<path d="M879.75 1342.07L887.5 1357.97L895.25 1342.07Z" class="b"/>
<rect x="917.95" y="1061.95" width="16.1" height="16.1" class="o"/>
<rect x="932.65" y="1070.85" width="16.1" height="16.1" class="o"/>
<rect x="917.95" y="1096.75" width="16.1" height="16.1" class="o"/>
<rect x="932.65" y="1096.75" width="16.1" height="16.1" class="o"/>
<rect x="925.15" y="1133.15" width="16.1" height="16.1" class="o"/>
<rect x="925.15" y="1176.65" width="16.1" height="16.1" class="o"/>
<rect x="925.2" y="1282.7" width="16.1" height="16.1" class="o"/>
<line x1="822.8" y1="1118.7" x2="860.75" y2="1118.7" stroke-width="2.9"/>
<line x1="868.5" y1="1068.5" x2="906.5" y2="1068.5" stroke-width="2.9"/>
<line x1="914.4" y1="1104.8" x2="952.2" y2="1104.8" stroke-width="2.9"/>
<circle cx="1202.5" cy="981.6" r="8.1" class="g"/>
<circle cx="1202.5" cy="1037.3" r="8.1" class="g"/>
<circle cx="1202.5" cy="1099.1" r="8.1" class="g"/>
<circle cx="1202.5" cy="1139.6" r="8.1" class="g"/>
<rect x="1231.95" y="1014.85" width="16.1" height="16.1" class="o"/>
<rect x="1246.95" y="1017.15" width="16.1" height="16.1" class="o"/>
<rect x="1239.45" y="1043.75" width="16.1" height="16.1" class="o"/>
<rect x="1239.45" y="1067.05" width="16.1" height="16.1" class="o"/>
<rect x="1239.45" y="1124.55" width="16.1" height="16.1" class="o"/>
<line x1="1182" y1="1048.8" x2="1223" y2="1048.8" stroke-width="2.9"/>
<line x1="1227" y1="1052.1" x2="1268.2" y2="1052.1" stroke-width="2.9"/>
<circle cx="1322.5" cy="969.3" r="8.1" class="g"/>
<circle cx="1322.5" cy="981.7" r="8.1" class="g"/>
<circle cx="1322.5" cy="1006.8" r="8.1" class="g"/>
<circle cx="1322.5" cy="1059" r="8.1" class="g"/>
<rect x="1359.45" y="1003.95" width="16.1" height="16.1" class="o"/>
<rect x="1366.95" y="988.65" width="16.1" height="16.1" class="o"/>
<rect x="1357.2" y="982.55" width="16.1" height="16.1" class="o"/>
<rect x="1362.45" y="991.65" width="16.1" height="16.1" class="o"/>
<rect x="1351.95" y="991.65" width="16.1" height="16.1" class="o"/>
<line x1="1302" y1="990" x2="1343" y2="990" stroke-width="2.9"/>
<line x1="1347" y1="999.6" x2="1388" y2="999.6" stroke-width="2.9"/>
<circle cx="1442.5" cy="971.1" r="8.1" class="g"/>
<circle cx="1435" cy="987.7" r="8.1" class="g"/>
<circle cx="1450" cy="987.7" r="8.1" class="g"/>
<circle cx="1442.5" cy="1031.1" r="8.1" class="g"/>
<rect x="1479.95" y="963.55" width="16.1" height="16.1" class="o"/>
<rect x="1472.45" y="979.75" width="16.1" height="16.1" class="o"/>
<rect x="1487.45" y="977.05" width="16.1" height="16.1" class="o"/>
<rect x="1479.95" y="1010.85" width="16.1" height="16.1" class="o"/>
<rect x="1479.95" y="998.85" width="16.1" height="16.1" class="o"/>
<line x1="1422" y1="987.7" x2="1463.2" y2="987.7" stroke-width="2.9"/>
<line x1="1467" y1="987.5" x2="1508.5" y2="987.5" stroke-width="2.9"/>
<circle cx="1563" cy="944.7" r="8.1" class="g"/>
<circle cx="1555.5" cy="992.8" r="8.1" class="g"/>
<circle cx="1570.5" cy="994.6" r="8.1" class="g"/>
<circle cx="1563" cy="1019" r="8.1" class="g"/>
<rect x="1616.45" y="975.55" width="16.1" height="16.1" class="o"/>
<rect x="1607.45" y="963.95" width="16.1" height="16.1" class="o"/>
<rect x="1607.45" y="978.25" width="16.1" height="16.1" class="o"/>
<rect x="1592.45" y="982.75" width="16.1" height="16.1" class="o"/>
<rect x="1592.45" y="968.55" width="16.1" height="16.1" class="o"/>
<line x1="1542.3" y1="993.5" x2="1583.7" y2="993.5" stroke-width="2.9"/>
<line x1="1587.3" y1="983.6" x2="1628.5" y2="983.6" stroke-width="2.9"/>
<circle cx="1675.5" cy="992.8" r="8.1" class="g"/>
<circle cx="1683" cy="978.5" r="8.1" class="g"/>
<circle cx="1690.5" cy="999.5" r="8.1" class="g"/>
<circle cx="1683" cy="1019" r="8.1" class="g"/>
<rect x="1712.65" y="978.25" width="16.1" height="16.1" class="o"/>
<rect x="1712.65" y="971.55" width="16.1" height="16.1" class="o"/>
<rect x="1727.95" y="976.75" width="16.1" height="16.1" class="o"/>
<rect x="1727.95" y="969.25" width="16.1" height="16.1" class="o"/>
<rect x="1719.95" y="1018.75" width="16.1" height="16.1" class="o"/>
<line x1="1662.3" y1="995.6" x2="1703.7" y2="995.6" stroke-width="2.9"/>
<line x1="1709.3" y1="985.1" x2="1746.8" y2="985.1" stroke-width="2.9"/>
<circle cx="1795.7" cy="979.1" r="8.1" class="g"/>
<circle cx="1811" cy="978.4" r="8.1" class="g"/>
<circle cx="1803.2" cy="999.5" r="8.1" class="g"/>
<circle cx="1803.2" cy="1019" r="8.1" class="g"/>
<rect x="1840.15" y="914.95" width="16.1" height="16.1" class="o"/>
<rect x="1840.15" y="948.65" width="16.1" height="16.1" class="o"/>
<rect x="1832.95" y="978.25" width="16.1" height="16.1" class="o"/>
<rect x="1832.95" y="966.55" width="16.1" height="16.1" class="o"/>
<rect x="1847.95" y="970.75" width="16.1" height="16.1" class="o"/>
<line x1="1782.5" y1="986.8" x2="1823.75" y2="986.8" stroke-width="2.9"/>
<line x1="1827.5" y1="974.6" x2="1868.75" y2="974.6" stroke-width="2.9"/>
<circle cx="1923.2" cy="971.6" r="8.1" class="g"/>
<circle cx="1923.2" cy="983.8" r="8.1" class="g"/>
<circle cx="1916" cy="997.3" r="8.1" class="g"/>
<circle cx="1931" cy="997.3" r="8.1" class="g"/>
<rect x="1951.45" y="966.25" width="16.1" height="16.1" class="o"/>
<rect x="1968.45" y="969.55" width="16.1" height="16.1" class="o"/>
<rect x="1977.7" y="974.55" width="16.1" height="16.1" class="o"/>
<rect x="1952.65" y="975.25" width="16.1" height="16.1" class="o"/>
<rect x="1967.65" y="983.85" width="16.1" height="16.1" class="o"/>
<line x1="1902.8" y1="989.3" x2="1944" y2="989.3" stroke-width="2.9"/>
<line x1="1947.8" y1="980.8" x2="1988.75" y2="980.8" stroke-width="2.9"/>
</svg>
</body></html>
